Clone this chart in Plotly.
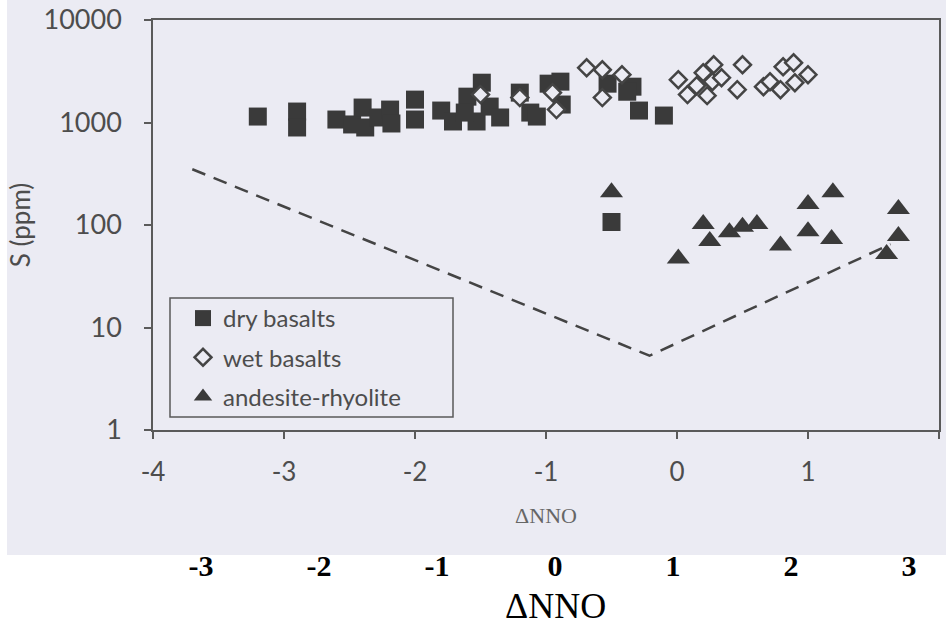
import plotly.graph_objects as go

# ---- data ----
dry_x = [-3.20, -2.90, -2.90, -2.60, -2.48, -2.40, -2.38, -2.28, -2.19, -2.18,
         -2.00, -2.00, -1.80, -1.71, -1.60, -1.49, -1.53, -1.43, -1.35, -1.20,
         -1.12, -0.98, -0.89, -0.88, -1.62, -1.07, -0.53, -0.34, -0.38, -0.29,
         -0.10, -0.50]
dry_y = [1143, 1279, 894, 1069, 957, 1399, 894, 1119, 1337, 978,
         1672, 1069, 1308, 1023, 1787, 2445, 1023, 1430, 1119, 1956,
         1250, 2393, 2504, 1497, 1250, 1143, 2393, 2236, 1996, 1308,
         1169, 107]

wet_x = [-1.50, -1.20, -0.95, -0.92, -0.69, -0.57, -0.42, -0.57, 0.01, 0.08,
         0.15, 0.20, 0.28, 0.27, 0.23, 0.34, 0.50, 0.46, 0.66, 0.71,
         0.79, 0.81, 0.89, 0.90, 1.00]
wet_y = [1871, 1749, 1956, 1337, 3419, 3271, 2924, 1749, 2615, 1871,
         2286, 3057, 3657, 2500, 1828, 2735, 3657, 2090, 2236, 2500,
         2090, 3497, 3826, 2445, 2924]

and_x = [-0.50, 0.01, 0.20, 0.25, 0.40, 0.50, 0.61, 0.79, 1.00, 1.00,
         1.19, 1.18, 1.69, 1.69, 1.60]
and_y = [209, 47, 102, 70, 85, 96, 102, 63, 160, 87,
         209, 73, 143, 78, 52]

line_x = [-3.70, -0.21, 1.63]
line_y = [350, 5.3, 65]

x_ticks = [-4, -3, -2, -1, 0, 1, 2]
y_ticks = [1, 10, 100, 1000, 10000]
x2_ticks = [-3, -2, -1, 0, 1, 2, 3]

# ---- styling ----
BG = "#ebebf3"
INK = "#3a3a3a"
TXT = "#4d4d4d"
AX = "#5a5a5a"
SANS = "Lato, 'Open Sans', sans-serif"
SERIF = "'Liberation Serif', 'DejaVu Serif', serif"

fig = go.Figure()

fig.add_trace(go.Scatter(
    x=line_x, y=line_y, mode="lines", showlegend=False,
    line=dict(color="#444444", width=2.5, dash="14px,9px")))

fig.add_trace(go.Scatter(
    x=dry_x, y=dry_y, mode="markers", name="dry basalts", legendgroup="a",
    marker=dict(symbol="square", size=18, color=INK, line=dict(width=0))))

fig.add_trace(go.Scatter(
    x=wet_x, y=wet_y, mode="markers", name="wet basalts", legendgroup="b",
    marker=dict(symbol="diamond", size=13, color=BG,
                line=dict(width=2.5, color="#444444"))))

fig.add_trace(go.Scatter(
    x=and_x, y=and_y, mode="markers", name="andesite-rhyolite", legendgroup="c",
    marker=dict(symbol="triangle-up", size=20, color=INK, line=dict(width=0))))

# invisible trace to carry the secondary x axis
fig.add_trace(go.Scatter(x=[x2_ticks[0]], y=[1], xaxis="x2", mode="markers",
                         marker=dict(opacity=0), showlegend=False, hoverinfo="skip"))

L, R, T, B = 153, 7, 20, 195
W, H = 946, 625
pw, ph = W - L - R, H - T - B

def px(xp):
    return (xp - L) / pw

def py(yp):
    return (H - B - yp) / ph

x2_left = (L - 555) / 118
x2_right = (W - R - 555) / 118

fig.update_layout(
    width=W, height=H,
    margin=dict(l=L, r=R, t=T, b=B, autoexpand=False),
    paper_bgcolor="white", plot_bgcolor="rgba(0,0,0,0)",
    font=dict(family=SANS, color=TXT),
    showlegend=True,
    legend=dict(x=px(183), y=py(296), xanchor="left", yanchor="top",
                bgcolor="rgba(0,0,0,0)", borderwidth=0,
                font=dict(family=SANS, size=24, color=TXT),
                tracegroupgap=5, itemsizing="trace"),
    xaxis=dict(range=[-4, 2], tickvals=x_ticks, ticktext=[str(v) for v in x_ticks],
               showgrid=False, zeroline=False, showline=True, linecolor=AX,
               linewidth=1.5, mirror=True, ticks="outside", ticklen=7, tickwidth=1.5,
               tickcolor=AX, tickfont=dict(family=SANS, size=26, color=TXT),
               ticklabelstandoff=11,
               title=dict(text="ΔNNO", standoff=22,
                          font=dict(family=SERIF, size=22, color="#666666"))),
    yaxis=dict(type="log", range=[0, 4], tickvals=y_ticks,
               ticktext=[str(v) for v in y_ticks],
               showgrid=False, zeroline=False, showline=True, linecolor=AX,
               linewidth=1.5, mirror=True, ticks="outside", ticklen=7, tickwidth=1.5,
               tickcolor=AX, tickfont=dict(family=SANS, size=27, color=TXT),
               ticklabelstandoff=17,
               title=dict(text="S (ppm)", standoff=5,
                          font=dict(family=SANS, size=26, color=TXT))),
    xaxis2=dict(overlaying="x", anchor="free", position=0, side="bottom",
                range=[x2_left, x2_right], tickvals=x2_ticks,
                ticktext=[str(v) for v in x2_ticks],
                showgrid=False, zeroline=False, showline=False, ticks="",
                tickfont=dict(family=SERIF, size=30, color="black", weight="bold"),
                ticklabelstandoff=115),
    shapes=[
        dict(type="rect", xref="paper", yref="paper", layer="below",
             x0=px(7), x1=px(W), y0=py(555), y1=py(0),
             fillcolor=BG, line=dict(width=0)),
        dict(type="rect", xref="paper", yref="paper", layer="above",
             x0=px(170), x1=px(453), y0=py(417), y1=py(298),
             fillcolor="rgba(0,0,0,0)", line=dict(color=AX, width=1.5)),
    ],
    annotations=[
        dict(text="ΔNNO", xref="paper", yref="paper", x=px(555), y=py(606),
             xanchor="center", yanchor="middle", showarrow=False,
             font=dict(family=SERIF, size=36, color="black")),
    ],
)

fig.write_html(
    "out.html",
    config={"displayModeBar": False},
    post_script="document.body.style.margin='0';document.body.style.padding='0';"
                "document.body.style.overflow='hidden';",
)
